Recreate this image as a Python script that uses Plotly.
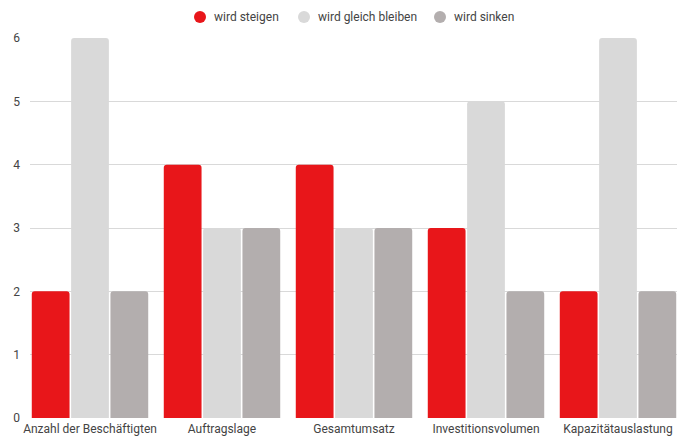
import plotly.graph_objects as go

categories = ["Anzahl der Beschäftigten", "Auftragslage", "Gesamtumsatz",
              "Investitionsvolumen", "Kapazitätauslastung"]
series_names = ["wird steigen", "wird gleich bleiben", "wird sinken"]
steigen = [2, 4, 4, 3, 2]
gleich = [6, 3, 3, 5, 6]
sinken = [2, 3, 3, 2, 2]
colors = ["#e8161a", "#d9d9d9", "#b3aeae"]
y_ticks = [0, 1, 2, 3, 4, 5, 6]

FONT = "Roboto"
TEXT = "#444444"

fig = go.Figure()
for name, vals, col in zip(series_names, [steigen, gleich, sinken], colors):
    fig.add_trace(go.Bar(
        x=categories, y=vals, name=name,
        marker=dict(color=col, cornerradius=3, line=dict(width=0)),
        showlegend=False,
    ))

# Plot area geometry in pixels
W, H = 686, 437
L, R, T, B = 30, 9, 38, 19
pw, ph = W - L - R, H - T - B

# one category slot is 132 px wide; bars fill the plot area edge to edge
slot = 132.0
x_range = [-0.5 + 6.0 / slot, -0.5 + 6.0 / slot + pw / slot]

def px_x(px):
    return (px - L) / pw

def px_y(py):
    return (H - B - py) / ph

legend_items = [(200, 212), (304, 316), (440, 452)]
shapes = []
annotations = []
for (cx, tx), name, col in zip(legend_items, series_names, colors):
    shapes.append(dict(
        type="circle", xref="paper", yref="paper",
        xsizemode="pixel", ysizemode="pixel",
        xanchor=px_x(cx), yanchor=px_y(17),
        x0=-6, x1=6, y0=-6, y1=6,
        fillcolor=col, line=dict(width=0),
    ))
    annotations.append(dict(
        text=name, xref="paper", yref="paper",
        x=px_x(tx), y=px_y(17), xanchor="left", yanchor="middle",
        showarrow=False, font=dict(family=FONT, size=12, color=TEXT),
    ))

fig.update_layout(
    width=W, height=H,
    margin=dict(l=L, r=R, t=T, b=B, pad=0),
    paper_bgcolor="white", plot_bgcolor="white",
    barmode="group", bargap=0.106, bargroupgap=0.04,
    font=dict(family=FONT, size=12, color=TEXT),
    showlegend=False,
    shapes=shapes, annotations=annotations,
    xaxis=dict(showgrid=False, zeroline=False, showline=False,
               range=x_range, ticks="", ticklabelstandoff=2,
               automargin=False,
               tickfont=dict(size=12, color=TEXT)),
    yaxis=dict(range=[0, 6], tickvals=y_ticks, showgrid=True,
               gridcolor="#d9d9d9", gridwidth=1, zeroline=False,
               showline=False, ticks="", ticklabelstandoff=9,
               automargin=False,
               tickfont=dict(size=12, color=TEXT)),
)

fig.write_html("out.html")
